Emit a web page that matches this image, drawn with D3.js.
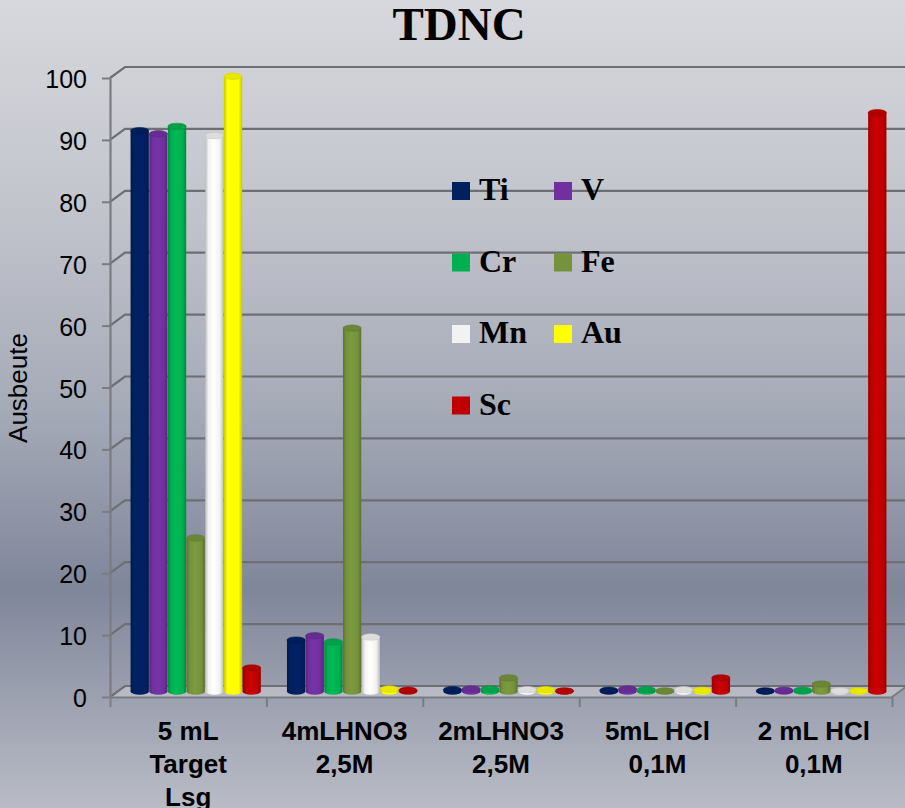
<!DOCTYPE html>
<html>
<head>
<meta charset="utf-8">
<script src="https://cdn.jsdelivr.net/npm/d3@7"></script>
<style>
  body { margin: 0; padding: 0; }
  svg { display: block; }
</style>
</head>
<body>
<div id="chart"></div>
<script>

  // data
  var categories = ["5 mL|Target|Lsg", "4mLHNO3|2,5M", "2mLHNO3|2,5M", "5mL HCl|0,1M", "2 mL HCl|0,1M"]
  var seriesNames = ["Ti", "V", "Cr", "Fe", "Mn", "Au", "Sc"]
  var seriesColors = ["#002060", "#7030a0", "#00b050", "#76923c", "#f2f2f2", "#ffff00", "#c00000"]

  var Ti = [90.6, 8.3, 0.3, 0.2, 0.1]
  var V  = [90.1, 9.0, 0.4, 0.4, 0.2]
  var Cr = [91.3, 8.0, 0.4, 0.3, 0.2]
  var Fe = [24.8, 58.7, 2.2, 0.1, 1.2]
  var Mn = [89.8, 8.8, 0.3, 0.3, 0.1]
  var Au = [99.4, 0.4, 0.3, 0.2, 0.1]
  var Sc = [3.8, 0.2, 0.1, 2.2, 93.5]
  var seriesValues = [Ti, V, Cr, Fe, Mn, Au, Sc]

  var yTicks = [0, 10, 20, 30, 40, 50, 60, 70, 80, 90, 100]

  var width = 905, height = 808
  // front edge of the plot and the 3d depth offset
  var plotLeft = 110, plotRight = 892, plotTop = 78, plotBottom = 697
  var depthX = 15, depthY = -11

  var svg = d3.select("#chart").append("svg")
      .attr("width", width)
      .attr("height", height)

  var defs = svg.append("defs")

  // background gradient
  var bg = defs.append("linearGradient")
      .attr("id", "bg")
      .attr("x1", 0).attr("y1", 0).attr("x2", 0).attr("y2", 1)
  bg.append("stop").attr("offset", "0%").attr("stop-color", "#d7d8dd")
  bg.append("stop").attr("offset", "25%").attr("stop-color", "#c3c5cd")
  bg.append("stop").attr("offset", "50%").attr("stop-color", "#a6abb8")
  bg.append("stop").attr("offset", "73%").attr("stop-color", "#80869a")
  bg.append("stop").attr("offset", "100%").attr("stop-color", "#b9bcc6")

  svg.append("rect")
      .attr("width", width)
      .attr("height", height)
      .attr("fill", "url(#bg)")

  // cylinder gradients, one per series
  seriesColors.forEach(function(c, i) {
    var base = d3.color(c)
    var g = defs.append("linearGradient")
        .attr("id", "cyl" + i)
        .attr("x1", 0).attr("y1", 0).attr("x2", 1).attr("y2", 0)
    g.append("stop").attr("offset", "0%").attr("stop-color", base.darker(0.7))
    g.append("stop").attr("offset", "18%").attr("stop-color", base)
    g.append("stop").attr("offset", "45%").attr("stop-color", base.brighter(0.15))
    g.append("stop").attr("offset", "80%").attr("stop-color", base)
    g.append("stop").attr("offset", "100%").attr("stop-color", base.darker(0.7))
  })

  // scales
  var yScale = d3.scaleLinear()
      .domain([0, 100])
      .range([plotBottom, plotTop])

  var xScale = d3.scaleBand()
      .domain(categories)
      .range([plotLeft, plotRight])
      .padding(0)

  var x1Scale = d3.scaleBand()
      .domain(seriesNames)
      .range([0, xScale.bandwidth()])
      .paddingInner(0.02)
      .paddingOuter(0.7)

  var edgeScale = d3.scaleLinear()
      .domain([0, categories.length])
      .range([plotLeft, plotRight])

  // floor
  svg.append("path")
      .attr("d", "M" + plotLeft + "," + plotBottom + "L" + plotRight + "," + plotBottom +
                 "L" + (plotRight + depthX) + "," + (plotBottom + depthY) +
                 "L" + (plotLeft + depthX) + "," + (plotBottom + depthY) + "Z")
      .attr("fill", "#c3c6cf")
      .attr("fill-opacity", 0.7)

  // back wall gridlines and the left wall diagonals
  var grid = svg.append("g").attr("class", "grid")
  yTicks.forEach(function(t) {
    var yf = yScale(t)
    grid.append("path")
        .attr("d", "M" + plotLeft + "," + yf + "L" + (plotLeft + depthX) + "," + (yf + depthY) +
                   "L" + (plotRight + depthX) + "," + (yf + depthY))
        .attr("fill", "none")
        .attr("stroke", "#6d6f75")
        .attr("stroke-width", 2.2)
  })

  // right floor edge
  svg.append("line")
      .attr("x1", plotRight).attr("y1", plotBottom)
      .attr("x2", plotRight + depthX).attr("y2", plotBottom + depthY)
      .attr("stroke", "#7a7c82")
      .attr("stroke-width", 2)

  // y axis
  var yAxis = d3.axisLeft(yScale)
      .tickValues(yTicks)
      .tickSize(8)
      .tickSizeOuter(0)
      .tickPadding(15)

  var gy = svg.append("g")
      .attr("class", "y axis")
      .attr("transform", "translate(" + plotLeft + ",0)")
      .call(yAxis)
  gy.select(".domain").attr("stroke", "#7a7c82").attr("stroke-width", 2.2)
  gy.selectAll(".tick line").attr("stroke", "#7a7c82").attr("stroke-width", 2)
  gy.selectAll(".tick text")
      .attr("font-family", "Liberation Sans, Arial, sans-serif")
      .attr("font-size", 25)
      .attr("fill", "#000")
      .attr("dy", "0.38em")

  // x axis (ticks between categories)
  var xAxis = d3.axisBottom(edgeScale)
      .tickValues(d3.range(categories.length + 1))
      .tickFormat("")
      .tickSize(10)
      .tickSizeOuter(0)

  var gx = svg.append("g")
      .attr("class", "x axis")
      .attr("transform", "translate(0," + plotBottom + ")")
      .call(xAxis)
  gx.select(".domain").attr("stroke", "#7a7c82").attr("stroke-width", 2.2)
  gx.selectAll(".tick line").attr("stroke", "#7a7c82").attr("stroke-width", 2)

  // category labels
  categories.forEach(function(c) {
    var lines = c.split("|")
    var t = svg.append("text")
        .attr("x", xScale(c) + xScale.bandwidth() / 2)
        .attr("y", 740)
        .attr("text-anchor", "middle")
        .attr("font-family", "Liberation Sans, Arial, sans-serif")
        .attr("font-weight", "bold")
        .attr("font-size", 26)
        .attr("fill", "#000")
    lines.forEach(function(l, i) {
      t.append("tspan")
          .attr("x", xScale(c) + xScale.bandwidth() / 2)
          .attr("dy", i == 0 ? 0 : 33)
          .text(l)
    })
  })

  // y axis title
  svg.append("text")
      .attr("transform", "translate(27,388) rotate(-90)")
      .attr("text-anchor", "middle")
      .attr("font-family", "Liberation Sans, Arial, sans-serif")
      .attr("font-size", 26)
      .attr("fill", "#000")
      .text("Ausbeute")

  // chart title
  svg.append("text")
      .attr("x", 459)
      .attr("y", 40)
      .attr("text-anchor", "middle")
      .attr("font-family", "Liberation Serif, Times New Roman, serif")
      .attr("font-weight", "bold")
      .attr("font-size", 47)
      .attr("fill", "#000")
      .text("TDNC")

  // cylinders, sitting half way into the depth
  var midX = depthX / 2, midY = depthY / 2
  var ry = 3.2
  var bars = svg.append("g").attr("class", "bars")

  categories.forEach(function(c, ci) {
    seriesNames.forEach(function(s, si) {
      var v = seriesValues[si][ci]
      var x0 = xScale(c) + x1Scale(s) + midX
      var w = x1Scale.bandwidth()
      var yBase = yScale(0) + midY
      var yTop = yScale(v) + midY
      var col = d3.color(seriesColors[si])
      var g = bars.append("g")

      // body with rounded bottom
      g.append("path")
          .attr("d", "M" + x0 + "," + yTop +
                     "L" + x0 + "," + yBase +
                     "A" + (w / 2) + "," + ry + " 0 0 0 " + (x0 + w) + "," + yBase +
                     "L" + (x0 + w) + "," + yTop + "Z")
          .attr("fill", "url(#cyl" + si + ")")

      // top cap
      g.append("ellipse")
          .attr("cx", x0 + w / 2)
          .attr("cy", yTop)
          .attr("rx", w / 2)
          .attr("ry", ry)
          .attr("fill", col.darker(0.25))
          .attr("stroke", col.darker(0.5))
          .attr("stroke-width", 0.6)
    })
  })

  // legend
  var legendX = [452, 554]
  var legendY = [182, 253.5, 325, 396.5]
  var legend = svg.append("g").attr("class", "legend")
  seriesNames.forEach(function(s, i) {
    var lx = legendX[i % 2], ly = legendY[Math.floor(i / 2)]
    legend.append("rect")
        .attr("x", lx)
        .attr("y", ly)
        .attr("width", 18)
        .attr("height", 18)
        .attr("fill", seriesColors[i])
    legend.append("text")
        .attr("x", lx + 27)
        .attr("y", ly + 18)
        .attr("font-family", "Liberation Serif, Times New Roman, serif")
        .attr("font-weight", "bold")
        .attr("font-size", 32)
        .attr("fill", "#000")
        .text(s)
  })

</script>
</body>
</html>
